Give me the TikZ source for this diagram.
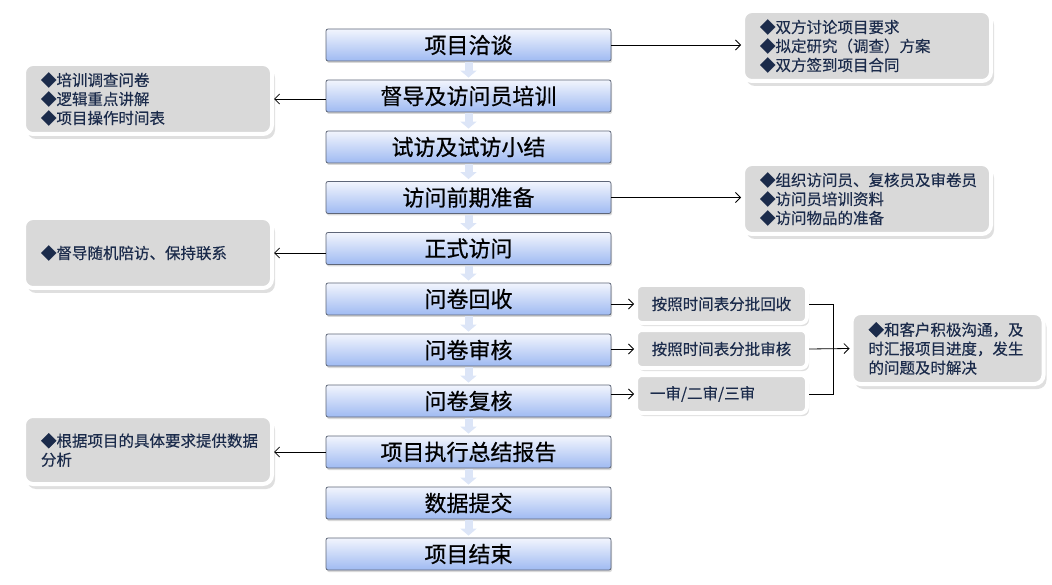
\documentclass[tikz,border=0pt]{standalone}
\usepackage{fontspec}
\setmainfont{Noto Sans CJK SC}
\newfontfamily\stepfont{Noto Sans CJK SC}[FakeBold=0.6]
\newfontfamily\notefont{Noto Sans CJK SC}[FakeBold=0.3]
\usepackage{tikz}
\usetikzlibrary{arrows.meta,shadows}

\definecolor{boxtop}{HTML}{F2F5FD}
\definecolor{boxbot}{HTML}{9FBAF2}
\definecolor{boxline}{HTML}{5E6678}
\definecolor{notefill}{HTML}{D9D9D9}
\definecolor{notetext}{HTML}{1B2B4B}
\definecolor{arrfill}{HTML}{DCE5F7}

\begin{document}
\begin{tikzpicture}[x=1pt,y=-1pt,
    stepbox/.style={rectangle,rounded corners=2pt,draw=boxline,line width=0.8pt,
        top color=boxtop,bottom color=boxbot,minimum width=285pt,minimum height=32pt,
        inner sep=0pt,font=\stepfont\fontsize{22}{24}\selectfont,
        drop shadow={shadow xshift=1pt,shadow yshift=-2pt,opacity=0.3}},
    notebox/.style={rectangle,rounded corners=9pt,draw=white,line width=4pt,fill=notefill,
        text=notetext,align=left,inner xsep=17pt,inner ysep=0pt,
        font=\notefont\fontsize{15.5}{19}\selectfont,
        drop shadow={shadow xshift=3pt,shadow yshift=-5pt,opacity=0.25}},
    smallbox/.style={rectangle,rounded corners=6pt,draw=white,line width=4pt,fill=notefill,
        text=notetext,minimum width=171pt,minimum height=38pt,inner xsep=14pt,
        font=\notefont\fontsize{15.5}{19}\selectfont,
        drop shadow={shadow xshift=2pt,shadow yshift=-3pt,opacity=0.25}},
    flowarr/.style={draw=arrfill,line width=8pt,shorten <=1pt,shorten >=2pt,
        -{Triangle[width=16pt,length=7pt]}},
    tip/.style={line width=0.8pt,-{Straight Barb[length=5pt,width=10pt]}}]
    \useasboundingbox (0,0) rectangle (1052,585);

    % main steps
    \node[stepbox] (b1) at (468.5,45) {项目洽谈};
    \node[stepbox] (b2) at (468.5,96) {督导及访问员培训};
    \node[stepbox] (b3) at (468.5,147) {试访及试访小结};
    \node[stepbox] (b4) at (468.5,197.5) {访问前期准备};
    \node[stepbox] (b5) at (468.5,248.5) {正式访问};
    \node[stepbox] (b6) at (468.5,299) {问卷回收};
    \node[stepbox] (b7) at (468.5,350) {问卷审核};
    \node[stepbox] (b8) at (468.5,401) {问卷复核};
    \node[stepbox] (b9) at (468.5,452) {项目执行总结报告};
    \node[stepbox] (b10) at (468.5,503) {数据提交};
    \node[stepbox] (b11) at (468.5,554) {项目结束};

    \draw[flowarr] (b1.south) -- (b2.north);
    \draw[flowarr] (b2.south) -- (b3.north);
    \draw[flowarr] (b3.south) -- (b4.north);
    \draw[flowarr] (b4.south) -- (b5.north);
    \draw[flowarr] (b5.south) -- (b6.north);
    \draw[flowarr] (b6.south) -- (b7.north);
    \draw[flowarr] (b7.south) -- (b8.north);
    \draw[flowarr] (b8.south) -- (b9.north);
    \draw[flowarr] (b9.south) -- (b10.north);
    \draw[flowarr] (b10.south) -- (b11.north);

    % notes
    \node[notebox,text width=214pt,minimum height=70pt] (rt1) at (867,46)
        {◆双方讨论项目要求\\◆拟定研究（调查）方案\\◆双方签到项目合同};
    \node[notebox,text width=214pt,minimum height=70pt] (rt2) at (867,199)
        {◆组织访问员、复核员及审卷员\\◆访问员培训资料\\◆访问物品的准备};
    \node[notebox,text width=214pt,minimum height=70pt] (lt1) at (148,99)
        {◆培训调查问卷\\◆逻辑重点讲解\\◆项目操作时间表};
    \node[notebox,text width=214pt,minimum height=70pt] (lt2) at (148,253)
        {◆督导随机陪访、保持联系};
    \node[notebox,text width=214pt,minimum height=68pt] (lt3) at (148,450)
        {◆根据项目的具体要求提供数据\\分析};
    \node[notebox,text width=158pt,minimum height=71pt] (rd) at (947.5,348.5)
        {◆和客户积极沟通，及\\时汇报项目进度，发生\\的问题及时解决};

    \node[smallbox] (sa) at (721.5,304) {按照时间表分批回收};
    \node[smallbox] (sb) at (721.5,349) {按照时间表分批审核};
    \node[smallbox,text width=143pt,align=left] (sc) at (721.5,394) {一审/二审/三审};
    \coordinate (j) at (833,349);

    % connectors
    \draw[tip] (b1.east) -- (b1.east -| rt1.west);
    \draw[tip] (b4.east) -- (b4.east -| rt2.west);
    \draw[tip] (lt1.east -| b2.west) -- (lt1.east);
    \draw[tip] (lt2.east -| b5.west) -- (lt2.east);
    \draw[tip] (b9.west) -- (b9.west -| lt3.east);
    \draw[tip] (sa.west -| b6.east) -- (sa.west);
    \draw[tip] (sb.west -| b7.east) -- (sb.west);
    \draw[tip] (sc.west -| b8.east) -- (sc.west);
    \draw[line width=0.8pt] (sa.east) -| (j) |- (sc.east);
    \draw[tip] (sb.east) -- (rd.west);
\end{tikzpicture}
\end{document}
